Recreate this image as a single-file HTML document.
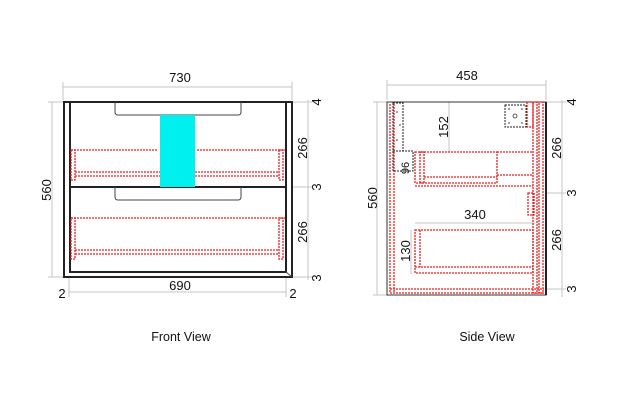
<!DOCTYPE html>
<html><head><meta charset="utf-8"><style>
html,body{margin:0;padding:0;background:#fff;width:628px;height:410px;overflow:hidden}
svg{display:block}
text{font-family:"Liberation Sans",sans-serif;fill:#111}
</style></head><body>
<svg width="628" height="410" viewBox="0 0 628 410" xmlns="http://www.w3.org/2000/svg">
<g fill="none" stroke="#c4c4c4" stroke-width="1">
 <line x1="63" y1="87" x2="292" y2="87"/>
 <line x1="63" y1="82" x2="63" y2="100"/><line x1="292" y1="82" x2="292" y2="100"/>
 <line x1="52" y1="102" x2="52" y2="277"/>
 <line x1="48" y1="102" x2="63" y2="102"/><line x1="48" y1="277" x2="63" y2="277"/>
 <line x1="308" y1="100" x2="308" y2="280"/>
 <line x1="292" y1="102" x2="312" y2="102"/><line x1="292" y1="187" x2="312" y2="187"/><line x1="292" y1="277" x2="312" y2="277"/>
 <line x1="69" y1="292" x2="286" y2="292"/>
 <line x1="69" y1="277" x2="69" y2="297"/><line x1="286" y1="277" x2="286" y2="297"/>
 <line x1="387" y1="85" x2="546" y2="85"/>
 <line x1="387" y1="80" x2="387" y2="100"/><line x1="546" y1="80" x2="546" y2="100"/>
 <line x1="377" y1="102" x2="377" y2="295"/>
 <line x1="373" y1="102" x2="387" y2="102"/><line x1="373" y1="295" x2="387" y2="295"/>
 <line x1="562" y1="100" x2="562" y2="297"/>
 <line x1="546" y1="102" x2="566" y2="102"/><line x1="546" y1="193" x2="566" y2="193"/><line x1="546" y1="289" x2="566" y2="289"/>
 <line x1="449" y1="102" x2="449" y2="152"/>
 <line x1="415" y1="223" x2="535" y2="223"/>
 <line x1="411" y1="230" x2="411" y2="274"/>
</g>
<g fill="none" stroke="#222" stroke-width="2">
 <rect x="64" y="102" width="228" height="175"/>
 <rect x="70" y="102" width="216" height="170"/>
 <line x1="70" y1="187" x2="286" y2="187"/>
</g>
<g fill="none" stroke="#444" stroke-width="1">
 <path d="M115 102 V112 Q115 115 118 115 H238 Q241 115 241 112 V102"/>
 <path d="M115 187 V197 Q115 200 118 200 H238 Q241 200 241 197 V187"/>
 <line x1="286" y1="272" x2="292" y2="277"/>
</g>
<g fill="none" stroke="#f01c1c" stroke-width="1.3" stroke-dasharray="2 1">
 <line x1="71" y1="150" x2="158" y2="150"/><line x1="197" y1="150" x2="285" y2="150"/>
 <rect x="71" y="150" width="4" height="30"/><rect x="279" y="150" width="4" height="30"/>
 <line x1="75" y1="172" x2="279" y2="172"/><line x1="75" y1="176" x2="279" y2="176"/>
 <line x1="71" y1="218" x2="285" y2="218"/>
 <rect x="71" y="218" width="4" height="41"/><rect x="279" y="218" width="4" height="41"/>
 <line x1="75" y1="250" x2="279" y2="250"/><line x1="75" y1="254" x2="279" y2="254"/>
</g>
<rect x="160" y="115" width="35" height="72" fill="#00f0f0"/>
<rect x="387" y="102" width="159" height="193" fill="none" stroke="#333" stroke-width="1"/>
<line x1="546" y1="102" x2="546" y2="295" stroke="#222" stroke-width="2"/>
<g fill="none" stroke="#f01c1c" stroke-width="1.3" stroke-dasharray="2 1">
 <line x1="390" y1="104" x2="390" y2="293"/><line x1="394" y1="104" x2="394" y2="293"/>
 <line x1="390" y1="289" x2="544" y2="289"/><line x1="390" y1="293" x2="544" y2="293"/>
 <rect x="533" y="102" width="4" height="191"/><rect x="539" y="102" width="4" height="191"/>
 <rect x="527" y="102" width="6" height="25"/>
 <rect x="528" y="193" width="6" height="22"/>
 <rect x="415" y="152" width="82" height="31"/>
 <rect x="420" y="152" width="4" height="31"/>
 <line x1="424" y1="177" x2="497" y2="177"/>
 <line x1="497" y1="152" x2="533" y2="152"/><line x1="497" y1="175" x2="533" y2="175"/>
 <line x1="415" y1="186" x2="533" y2="186"/>
 <rect x="415" y="230" width="118" height="43"/>
 <line x1="420" y1="230" x2="420" y2="267"/>
 <line x1="415" y1="267" x2="533" y2="267"/>
</g>
<g fill="none" stroke="#222" stroke-width="1" stroke-dasharray="2 1">
 <rect x="393" y="103" width="10" height="48"/>
 <rect x="393" y="151" width="20" height="20"/>
 <rect x="505" y="105" width="21" height="22"/>
</g>
<g fill="#333">
 <circle cx="397" cy="112" r="0.8"/><circle cx="400" cy="125" r="0.8"/><circle cx="397" cy="140" r="0.8"/>
 <circle cx="509" cy="109" r="0.8"/><circle cx="522" cy="109" r="0.8"/><circle cx="509" cy="123" r="0.8"/><circle cx="522" cy="123" r="0.8"/>
</g>
<circle cx="515" cy="116" r="2" fill="none" stroke="#333" stroke-width="0.8"/>
<g font-size="13">
 <text x="180" y="82" text-anchor="middle">730</text>
 <text x="180" y="290" text-anchor="middle">690</text>
 <text x="62" y="298" text-anchor="middle">2</text>
 <text x="293" y="298" text-anchor="middle">2</text>
 <text transform="translate(51,190) rotate(-90)" text-anchor="middle">560</text>
 <text transform="translate(307,148) rotate(-90)" text-anchor="middle">266</text>
 <text transform="translate(307,232) rotate(-90)" text-anchor="middle">266</text>
 <text transform="translate(321,102) rotate(-90)" text-anchor="middle">4</text>
 <text transform="translate(321,187) rotate(-90)" text-anchor="middle">3</text>
 <text transform="translate(321,278) rotate(-90)" text-anchor="middle">3</text>
 <text x="467" y="80" text-anchor="middle">458</text>
 <text transform="translate(377,198) rotate(-90)" text-anchor="middle">560</text>
 <text transform="translate(448,127) rotate(-90)" text-anchor="middle">152</text>
 <text x="475" y="219" text-anchor="middle">340</text>
 <text transform="translate(410,251) rotate(-90)" text-anchor="middle">130</text>
 <text transform="translate(409,168) rotate(-90)" text-anchor="middle" font-size="11">96</text>
 <text transform="translate(561,148) rotate(-90)" text-anchor="middle">266</text>
 <text transform="translate(561,240) rotate(-90)" text-anchor="middle">266</text>
 <text transform="translate(576,102) rotate(-90)" text-anchor="middle">4</text>
 <text transform="translate(576,193) rotate(-90)" text-anchor="middle">3</text>
 <text transform="translate(576,289) rotate(-90)" text-anchor="middle">3</text>
 <text x="181" y="341" text-anchor="middle" font-size="12.5">Front View</text>
 <text x="487" y="341" text-anchor="middle" font-size="12.5">Side View</text>
</g>
</svg>
</body></html>
